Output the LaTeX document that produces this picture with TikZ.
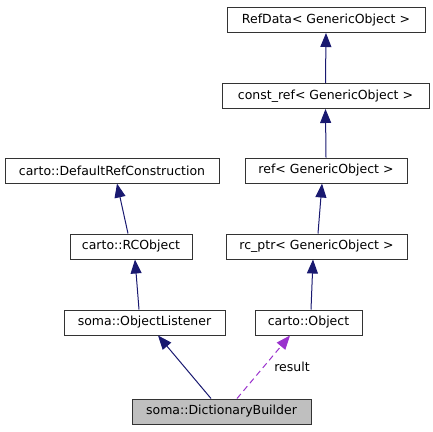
\documentclass[tikz,border=0pt]{standalone}
\usepackage{fontspec}
\setmainfont{DejaVu Sans}
\usetikzlibrary{arrows.meta}
\definecolor{edgeblue}{HTML}{191970}
\definecolor{edgepurple}{HTML}{9A32CD}
\definecolor{curgray}{HTML}{BFBFBF}
\tikzset{
  cls/.style={draw=black!80, line width=1pt, fill=white, inner sep=0pt, minimum height=25pt, font=\fontsize{12.5}{15}\selectfont},
  inherit/.style={draw=edgeblue, line width=1pt, -{Triangle[length=14pt, width=11pt]}},
  usage/.style={draw=edgepurple, line width=1pt, dash pattern=on 6pt off 4pt, -{Triangle[length=14pt, width=11pt, fill=edgepurple]}}
}
\begin{document}
\begin{tikzpicture}[x=1pt, y=-1pt]
			%%%%% BOXES %%%%%
			\useasboundingbox (0, 0) rectangle (433, 431);
			
			\node[cls, minimum width=198pt] (refdata) at (326, 20) {RefData< GenericObject >};
			\node[cls, minimum width=207pt] (constref) at (325.5, 96) {const\_ref< GenericObject >};
			\node[cls, minimum width=214pt] (defref) at (112, 170.5) {carto::DefaultRefConstruction};
			\node[cls, minimum width=162pt] (ref) at (326, 170.5) {ref< GenericObject >};
			\node[cls, minimum width=122pt] (rcobject) at (131, 246.5) {carto::RCObject};
			\node[cls, minimum width=181pt] (rcptr) at (316.5, 246.5) {rc\_ptr< GenericObject >};
			\node[cls, minimum width=161pt] (listener) at (144.5, 322.5) {soma::ObjectListener};
			\node[cls, minimum width=107pt] (object) at (308.5, 322.5) {carto::Object};
			\node[cls, fill=curgray, minimum width=179pt] (builder) at (221.5, 411.5) {soma::DictionaryBuilder};
			
			%%%%% EDGES %%%%%
			\draw[inherit] (constref.north) -- (refdata.south);
			\draw[inherit] (ref.north) -- (constref.south);
			\draw[inherit] ([xshift=-3pt]rcobject.north) -- ([xshift=5pt]defref.south);
			\draw[inherit] ([xshift=1.5pt]rcptr.north) -- ([xshift=-4pt]ref.south);
			\draw[inherit] ([xshift=-5.5pt]listener.north) -- ([xshift=4pt]rcobject.south);
			\draw[inherit] ([xshift=2.5pt]object.north) -- ([xshift=-3.5pt]rcptr.south);
			\draw[inherit] ([xshift=-10.5pt]builder.north) -- ([xshift=13.5pt]listener.south);
			\draw[usage] ([xshift=15.5pt]builder.north) -- node[pos=0.5, right=7pt, font=\fontsize{12.5}{15}\selectfont, text=black] (reslabel) {result} ([xshift=-18.5pt]object.south);
\end{tikzpicture}
\end{document}
